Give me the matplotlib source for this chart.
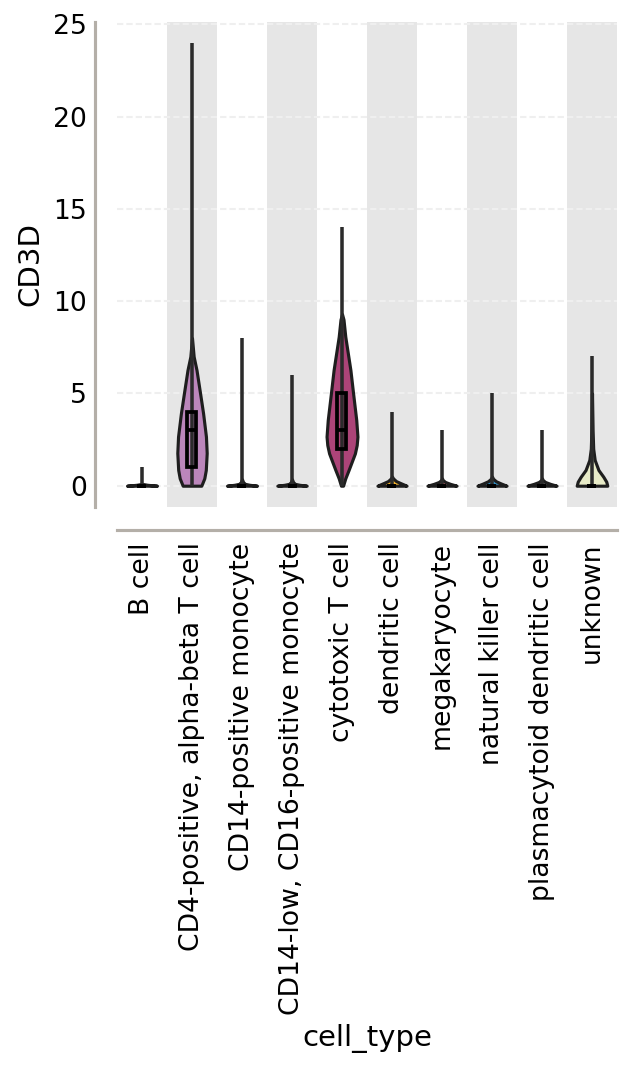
import matplotlib
matplotlib.use("Agg")
import matplotlib.pyplot as plt
from matplotlib.patches import Rectangle

# 细胞类型与 CD3D 表达量
categories = [
    "B cell", "CD4-positive, alpha-beta T cell", "CD14-positive monocyte",
    "CD14-low, CD16-positive monocyte", "cytotoxic T cell", "dendritic cell",
    "megakaryocyte", "natural killer cell", "plasmacytoid dendritic cell", "unknown",
]
whisker_max = [1, 24, 8, 6, 14, 4, 3, 5, 3, 7]
q1 = [0, 1, 0, 0, 2, 0, 0, 0, 0, 0]
median = [0, 3, 0, 0, 3, 0, 0, 0, 0, 0]
q3 = [0, 4, 0, 0, 5, 0, 0, 0, 0, 0]

# 小提琴轮廓：表达量水平 与 相对密度
profile_levels = [
    [0, 0.05, 0.1],
    [0, 0.4, 0.85, 1.77, 2.66, 3.92, 5.0, 6.27, 7.0, 8.0],
    [0, 0.05, 0.1, 0.2, 0.35],
    [0, 0.05, 0.1, 0.2, 0.35],
    [0, 0.4, 0.85, 1.75, 2.2, 2.66, 3.56, 5.0, 6.27, 8.07, 9.0, 9.3],
    [0, 0.13, 0.25, 0.4, 0.5],
    [0, 0.1, 0.2, 0.3, 0.4],
    [0, 0.12, 0.24, 0.38, 0.5],
    [0, 0.1, 0.2, 0.3, 0.4],
    [0, 0.22, 0.49, 0.85, 1.39, 2.0, 3.0, 5.0],
]
profile_density = [
    [1.0, 0.35, 0],
    [0.62, 0.82, 0.92, 0.98, 0.93, 0.74, 0.54, 0.30, 0.11, 0],
    [1.0, 0.5, 0.2, 0.07, 0],
    [0.98, 0.5, 0.2, 0.07, 0],
    [0.07, 0.22, 0.44, 0.86, 0.98, 1.03, 0.95, 0.74, 0.56, 0.22, 0.10, 0],
    [0.97, 0.6, 0.27, 0.07, 0],
    [0.97, 0.55, 0.22, 0.06, 0],
    [0.97, 0.6, 0.27, 0.07, 0],
    [0.97, 0.55, 0.22, 0.06, 0],
    [1.02, 0.95, 0.75, 0.43, 0.18, 0.08, 0.04, 0],
]

colors = ["#3a3a4a", "#bb86bb", "#4a3b55", "#3d3348", "#ac4478",
          "#f5b42a", "#d0676e", "#2f8fc4", "#6a6a6a", "#e8ebc8"]

max_half = 0.30
W, H, DPI = 632, 1065, 150

fig = plt.figure(figsize=(W / DPI, H / DPI), dpi=DPI)
ax = fig.add_axes([117 / W, 1 - 507 / H, 500 / W, 485 / H])
ax.set_xlim(-0.5, len(categories) - 0.5)
ax.set_ylim(-1.154, 25.12)

# 交替灰色背景带
for i in range(1, len(categories), 2):
    ax.axvspan(i - 0.5, i + 0.5, color="#e6e6e6", lw=0, zorder=0)

for i, cat in enumerate(categories):
    ys = profile_levels[i]
    hw = [d * max_half for d in profile_density[i]]
    ax.fill_betweenx(ys, [i - h for h in hw], [i + h for h in hw],
                     facecolor=colors[i], edgecolor="#1e1e1e", lw=1.5, zorder=2)
    ax.vlines(i, 0, whisker_max[i], color="#2b2b2b", lw=1.7, zorder=3)
    ax.add_patch(Rectangle((i - 0.09, q1[i]), 0.18, q3[i] - q1[i], fill=False,
                           edgecolor="black", lw=1.8, zorder=4))
    ax.hlines(median[i], i - 0.09, i + 0.09, color="black", lw=1.8, zorder=4)

ax.set_axisbelow(True)
ax.yaxis.grid(True, color="#efefef", lw=1.0, linestyle=(0, (3, 1.5)))
ax.set_yticks([0, 5, 10, 15, 20, 25])
ax.set_xticks(range(len(categories)))
ax.set_xticklabels(categories)
ax.tick_params(axis="y", length=0, labelsize=12.75, pad=3.8)
ax.tick_params(axis="x", length=0, labelsize=12.75, pad=6, labelrotation=90)

for side in ["top", "right"]:
    ax.spines[side].set_visible(False)
ax.spines["left"].set_position(("outward", 10.5))
ax.spines["bottom"].set_position(("outward", 11))
for side in ["left", "bottom"]:
    ax.spines[side].set_color("#b4afa8")
    ax.spines[side].set_linewidth(1.5)

ax.set_ylabel("CD3D", fontsize=14)
ax.set_xlabel("cell_type", fontsize=14)

fig.savefig("out.png", dpi=DPI)
